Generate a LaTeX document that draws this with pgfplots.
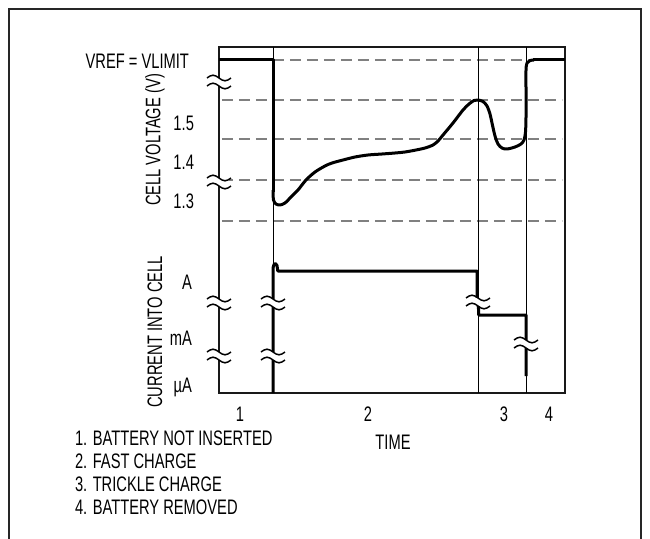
\documentclass[border=0pt]{standalone}
\usepackage{pgfplots}
\pgfplotsset{compat=1.18}
\usepackage{fontspec}
\setmainfont{Liberation Sans}[FakeStretch=0.7]
\definecolor{dashgray}{HTML}{808080}
\newcommand{\brk}[2]{%
  \begin{scope}[shift={(axis cs:#1,#2)}]
    \fill[white] (-5pt,-1.9pt) rectangle (5pt,1.9pt);
    \draw[line width=0.75pt] (-6pt,2pt) sin (-3pt,3.4pt) cos (0pt,2pt) sin (3pt,0.6pt) cos (6pt,2pt);
    \draw[line width=0.75pt] (-6pt,-2pt) sin (-3pt,-0.6pt) cos (0pt,-2pt) sin (3pt,-3.4pt) cos (6pt,-2pt);
  \end{scope}}
\begin{document}
\begin{tikzpicture}[x=0.5pt,y=-0.5pt,font=\fontsize{10.5}{12}\selectfont]
\draw[line width=0.9pt, black!85] (9,560) -- (9,9) -- (641,9) -- (641,560);
\begin{axis}[at={(109.5pt,-23.5pt)}, anchor=north west,
  width=173pt, height=173pt, scale only axis,
  xmin=219, xmax=565, ymin=47, ymax=393, y dir=reverse,
  axis line style={line width=1.3pt, black!90},
  xtick=\empty, ytick=\empty, clip=false]
% dashed reference lines
\addplot[dashgray, line width=0.9pt, dash pattern=on 5.5pt off 3pt] coordinates {(222,60) (562,60)};
\addplot[dashgray, line width=0.9pt, dash pattern=on 5.5pt off 3pt] coordinates {(222,100) (562,100)};
\addplot[dashgray, line width=0.9pt, dash pattern=on 5.5pt off 3pt] coordinates {(222,139) (562,139)};
\addplot[dashgray, line width=0.9pt, dash pattern=on 5.5pt off 3pt] coordinates {(222,180) (562,180)};
\addplot[dashgray, line width=0.9pt, dash pattern=on 5.5pt off 3pt] coordinates {(222,221) (562,221)};
% thin phase separators
\addplot[black, line width=0.45pt] coordinates {(273,47) (273,393)};
\addplot[black, line width=0.45pt] coordinates {(478,47) (478,393)};
\addplot[black, line width=0.45pt] coordinates {(526,47) (526,393)};
% cell voltage
\addplot[black, line width=1.5pt, line join=round] coordinates {(219,60) (273,60) (273,192)};
\addplot[black, line width=1.5pt, smooth, tension=0.5, line join=round] coordinates {
 (273,190) (273.5,200) (276,204) (280,205) (285,203) (291,197) (298,190) (306,180) (315,172) (325,166) (332,163)
 (343,160) (355,157) (368,155) (382,154) (395,153) (405,152) (416,150) (425,148) (433,145)
 (438,141) (443,135) (453,123) (463,110) (469,104) (474,100.5) (478,100) (483,101.5) (487,106)
 (490,114) (492,123) (495,136) (498,144) (502,148) (507,149) (515,147) (521,144) (524,140)
 (525.5,132) (526,117) (526,90) (526,70) (527,63) (530,60.5) (534,60)};
\addplot[black, line width=1.5pt] coordinates {(533,60) (565,60)};
% current into cell
\addplot[black, line width=1.5pt, line join=round] coordinates {
 (273,393) (273,268) (274,264.5) (275.5,263.5) (277,265.5) (277.8,271) (477,271) (477,296) (478.5,309) (478.5,315)
 (526,315) (526,376)};
% axis breaks
\brk{219}{82}
\brk{219}{182}
\brk{219}{303}
\brk{219}{356}
\brk{273}{303}
\brk{273}{356}
\brk{478}{302}
\brk{526}{344}
\end{axis}
% labels
\node[anchor=east] at (196,61) {VREF = VLIMIT};
\node[anchor=east] at (201,123) {1.5};
\node[anchor=east] at (201,162) {1.4};
\node[anchor=east] at (201,201) {1.3};
\node[anchor=east] at (199,282) {A};
\node[anchor=east] at (199,338) {mA};
\node[anchor=east] at (199,387) {µA};
\node[rotate=90] at (155,140) {CELL VOLTAGE (V)};
\node[rotate=90] at (155,332) {CURRENT INTO CELL};
\node at (240,414) {1};
\node at (368,414) {2};
\node at (504,414) {3};
\node at (549,414) {4};
\node at (393,442) {TIME};
\node[anchor=west] at (68,438) {1. BATTERY NOT INSERTED};
\node[anchor=west] at (68,461) {2. FAST CHARGE};
\node[anchor=west] at (68,484) {3. TRICKLE CHARGE};
\node[anchor=west] at (68,507) {4. BATTERY REMOVED};
\pgfresetboundingbox
\useasboundingbox (0,0) rectangle (650,539);
\end{tikzpicture}
\end{document}
